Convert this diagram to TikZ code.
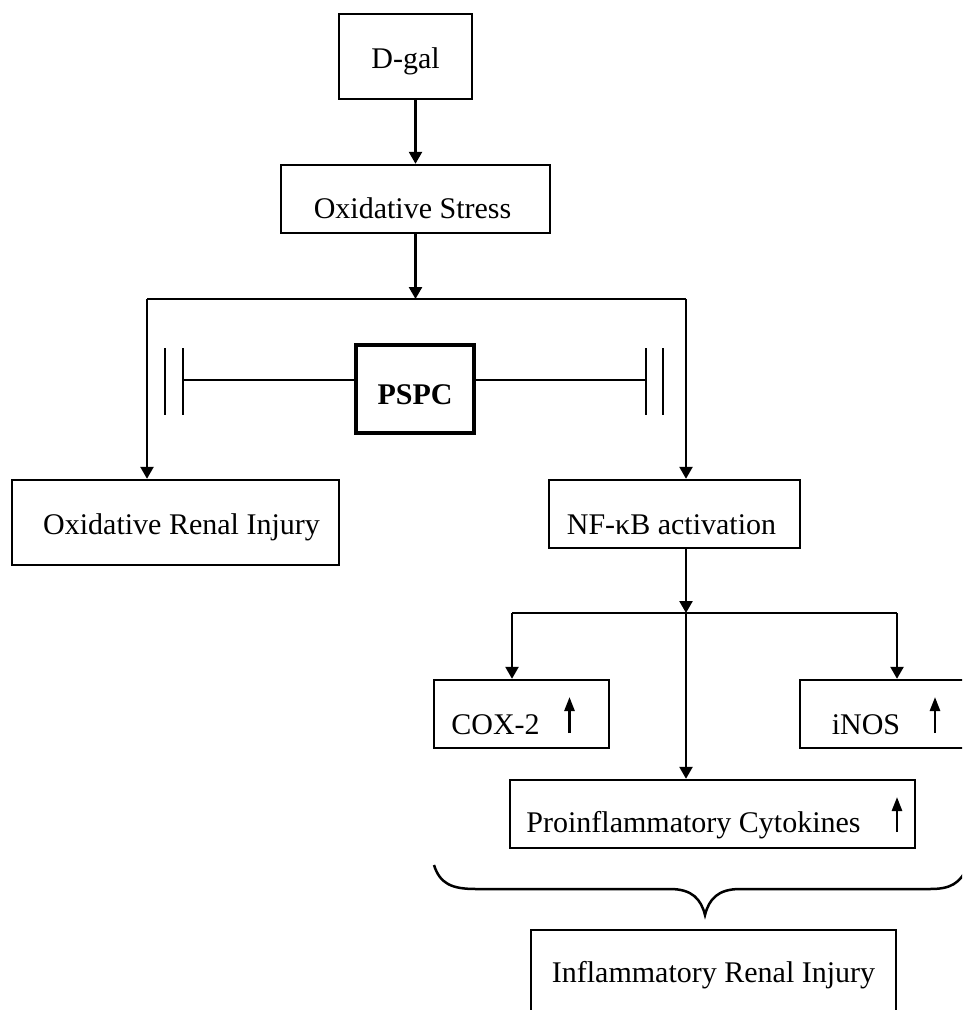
\documentclass[tikz,border=0pt]{standalone}
\usepackage{fontspec}
\setmainfont{Liberation Serif}
\usetikzlibrary{arrows.meta,calc}
\tikzset{
  box/.style={draw, line width=2.4pt, inner sep=0pt, font=\fontsize{30}{35}\selectfont, text depth=0pt},
  arr/.style={line width=2.5pt, -{Triangle[width=13pt,length=12pt]}},
  ln/.style={line width=2.5pt},
  up/.style={line width=2.6pt, -{Triangle[width=10pt,length=14pt]}},
}
\begin{document}
\begin{tikzpicture}[x=1pt,y=-1pt]
\useasboundingbox (0,0) rectangle (962,1010);
\clip (0,0) rectangle (962,1010);
\fill[white] (0,0) rectangle (962,1010);
% boxes
\node[box, minimum width=133pt, minimum height=85pt, text height=23pt] (dgal) at (405.5,56.5) {D-gal};
\node[box, minimum width=269pt, minimum height=68pt, text height=38pt] (os) at (415.5,199) {\hspace*{-6pt}Oxidative Stress};
\node[box, line width=4.5pt, minimum width=118pt, minimum height=88pt, text height=30pt, font=\fontsize{30}{35}\selectfont\bfseries] (pspc) at (415,389) {PSPC};
\node[box, minimum width=327pt, minimum height=85pt, text height=23pt] (ori) at (175.5,522.5) {\hspace*{12pt}Oxidative Renal Injury};
\node[box, minimum width=251pt, minimum height=68pt, text height=40pt] (nf) at (674.5,514) {NF-κB activation\hspace*{6pt}};
\node[box, minimum width=175pt, minimum height=68pt, text height=40pt] (cox) at (521.5,714) {COX-2\hspace*{52pt}};
\node[box, minimum width=164pt, minimum height=68pt, text height=40pt] (inos) at (882,714) {iNOS\hspace*{32pt}};
\node[box, minimum width=405pt, minimum height=68pt, text height=36pt] (pro) at (712.5,814) {Proinflammatory Cytokines\hspace*{38pt}};
\node[box, minimum width=365pt, minimum height=100pt, text height=4pt] (iri) at (713.5,980) {Inflammatory Renal Injury};
% junction coordinates
\coordinate (jT) at (415.5,299);
\coordinate (jL) at (147,299);
\coordinate (jR) at (686,299);
\coordinate (j2) at (686,613);
\coordinate (j2L) at (512,613);
\coordinate (j2R) at (897,613);
\coordinate (inL) at (183,380);
\coordinate (inR) at (646,380);
% connectors
\draw[arr] (dgal.south -| os.north) -- (os.north);
\draw[arr] (os.south) -- (jT);
\draw[ln] (jL) -- (jR);
\draw[arr] (jL) -- (jL |- ori.north);
\draw[arr] (jR) -- (jR |- nf.north);
\draw[arr] (nf.south -| j2) -- (j2);
\draw[ln] (j2L) -- (j2R);
\draw[arr] (j2L) -- (j2L |- cox.north);
\draw[arr] (j2R) -- (j2R |- inos.north);
\draw[arr] (j2) -- (j2 |- pro.north);
% inhibition
\draw[ln] (pspc.west |- inL) -- (inL);
\draw[ln] (165,348) -- (165,415);
\draw[ln] (inL |- 0,348) -- (inL |- 0,415);
\draw[ln] (pspc.east |- inR) -- (inR);
\draw[ln] (inR |- 0,348) -- (inR |- 0,415);
\draw[ln] (663,348) -- (663,415);
% up arrows
\draw[up] ($(cox.center)+(48,19)$) -- ($(cox.center)+(48,-17)$);
\draw[up] ($(inos.center)+(53,19)$) -- ($(inos.center)+(53,-17)$);
\draw[up] ($(pro.center)+(184.5,18)$) -- ($(pro.center)+(184.5,-17)$);
% brace
\draw[ln] (434,865) .. controls (440,884) and (452,889) .. (476,889) -- (670,889)
  .. controls (692,889) and (701,899) .. (705,915)
  .. controls (709,899) and (718,889) .. (740,889) -- (930,889)
  .. controls (950,889) and (960,884) .. (968,866);
\end{tikzpicture}
\end{document}
